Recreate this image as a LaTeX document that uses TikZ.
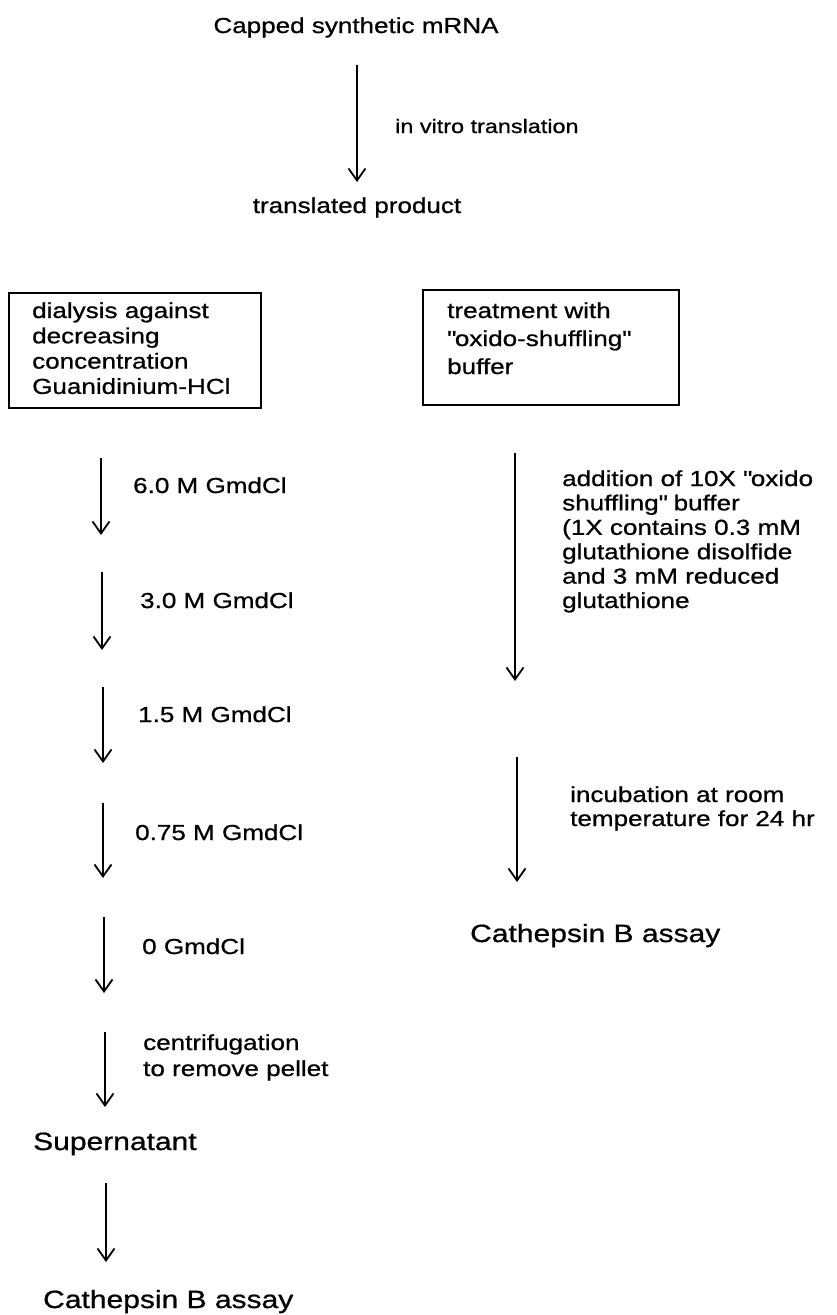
\documentclass[tikz,border=0pt]{standalone}
\usepackage{fontspec}
\setmainfont{Liberation Sans}[FakeStretch=1.2,FakeBold=0.8]
\usetikzlibrary{arrows.meta}
\newcommand\mystack[2]{\begingroup\fontsize{21.7}{#1}\selectfont\begin{tabular}[t]{@{}l@{}}#2\end{tabular}\endgroup}
\newcommand\dq{\textquotedbl}
\begin{document}
\begin{tikzpicture}[x=1pt,y=-1pt,
  txt/.style={inner sep=0pt, font=\fontsize{21.7}{25}\selectfont},
  big/.style={inner sep=0pt, font=\fontsize{25}{30}\selectfont},
  flow/.style={line width=1.8pt, -{Straight Barb[length=12pt,width=17pt,line width=1.8pt]}},
  frame/.style={draw, line width=2pt, inner sep=0pt}]
\useasboundingbox (0,0) rectangle (836,1315);

% top
\node[txt, anchor=base] (mrna) at (356,33) {Capped synthetic mRNA};
\coordinate (a1s) at (357,65); \coordinate (a1e) at (357,182);
\draw[flow] (a1s) -- (a1e);
\node[inner sep=0pt, font=\fontsize{19.5}{24}\selectfont, anchor=base west] (ivt) at (395,133) {in vitro translation};
\node[txt, anchor=base] (prod) at (357,213) {translated product};

% boxes
\node[frame, minimum width=252pt, minimum height=115pt] (boxL) at (135,350.5) {};
\node[inner sep=0pt, anchor=base west] (boxLt) at (32,318) {\mystack{25.3}{dialysis against\\decreasing\\concentration\\Guanidinium-HCl}};
\node[frame, minimum width=256pt, minimum height=115pt] (boxR) at (551,347.5) {};
\node[inner sep=0pt, anchor=base west] (boxRt) at (447,318) {\mystack{28}{treatment with\\\dq oxido-shuffling\dq\\buffer}};

% left column
\coordinate (l1s) at (101,458); \coordinate (l1e) at (101,535);
\draw[flow] (l1s) -- (l1e);
\node[txt, anchor=base west] (g6) at (133,493) {6.0 M GmdCl};
\coordinate (l2s) at (102,572); \coordinate (l2e) at (102,650);
\draw[flow] (l2s) -- (l2e);
\node[txt, anchor=base west] (g3) at (140,608) {3.0 M GmdCl};
\coordinate (l3s) at (103,687); \coordinate (l3e) at (103,763);
\draw[flow] (l3s) -- (l3e);
\node[txt, anchor=base west] (g15) at (138,722) {1.5 M GmdCl};
\coordinate (l4s) at (103,803); \coordinate (l4e) at (103,878);
\draw[flow] (l4s) -- (l4e);
\node[txt, anchor=base west] (g075) at (135,840) {0.75 M GmdCl};
\coordinate (l5s) at (104,917); \coordinate (l5e) at (104,993);
\draw[flow] (l5s) -- (l5e);
\node[txt, anchor=base west] (g0) at (142,954) {0 GmdCl};
\coordinate (l6s) at (105,1032); \coordinate (l6e) at (105,1107);
\draw[flow] (l6s) -- (l6e);
\node[inner sep=0pt, anchor=base west] (cent) at (143,1050) {\mystack{26}{centrifugation\\to remove pellet}};
\node[big, anchor=base west] (super) at (33,1150) {Supernatant};
\coordinate (l7s) at (106,1183); \coordinate (l7e) at (106,1262);
\draw[flow] (l7s) -- (l7e);
\node[big, anchor=base west] (catL) at (43,1308) {Cathepsin B assay};

% right column
\coordinate (r1s) at (515,453); \coordinate (r1e) at (515,681);
\draw[flow] (r1s) -- (r1e);
\node[inner sep=0pt, anchor=base west] (add) at (562,486) {\mystack{24.4}{addition of 10X \dq oxido\\shuffling\dq\ buffer\\(1X contains 0.3 mM\\glutathione disolfide\\and 3 mM reduced\\glutathione}};
\coordinate (r2s) at (517,757); \coordinate (r2e) at (517,882);
\draw[flow] (r2s) -- (r2e);
\node[inner sep=0pt, anchor=base west] (inc) at (570,802) {\mystack{24}{incubation at room\\temperature for 24 hr}};
\node[big, anchor=base west] (catR) at (470,942) {Cathepsin B assay};
\end{tikzpicture}
\end{document}
